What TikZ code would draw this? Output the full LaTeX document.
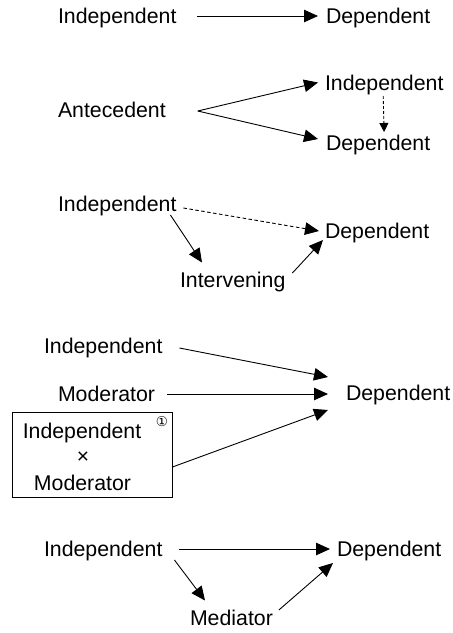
\documentclass[tikz,border=0pt]{standalone}
\usepackage{fontspec}
\setmainfont{Liberation Sans}
\newfontfamily\symfont{DejaVu Sans}
\usetikzlibrary{arrows.meta,calc}
\tikzset{
  lbl/.style={inner sep=0pt, outer sep=0pt, text height=15pt, text depth=0pt, font=\fontsize{21.3}{25}\selectfont},
  arr/.style={line width=0.9pt, -{Triangle[length=14pt,width=12.5pt]}},
  darr/.style={line width=0.9pt, dash pattern=on 3.5pt off 2.5pt, -{Triangle[length=14pt,width=12.5pt]}},
  sdarr/.style={line width=0.9pt, dash pattern=on 3pt off 2pt, -{Triangle[length=9pt,width=9pt]}},
  boxstyle/.style={draw, line width=0.9pt, inner sep=0pt, minimum width=160pt, minimum height=85pt}
}
\begin{document}
\begin{tikzpicture}[x=1pt,y=-1pt]
\useasboundingbox (0,0) rectangle (453,633);
% Row 1
\node[lbl,anchor=west] (i1) at (58,16) {Independent};
\node[lbl,anchor=west] (d1) at (326,16) {Dependent};
\draw[arr] ($(i1.east)+(21,0)$) -- ($(d1.west)+(-8,0)$);
% Row 2
\node[lbl,anchor=west] (a2) at (58,110) {Antecedent};
\node[lbl,anchor=west] (i2) at (325,82.5) {Independent};
\node[lbl,anchor=west] (d2) at (326,142.5) {Dependent};
\draw[arr] ($(a2.east)+(32,1)$) -- ($(i2.west)+(-7,0)$);
\draw[arr] ($(a2.east)+(32,1)$) -- ($(d2.west)+(-8,-3.5)$);
\draw[sdarr] ($(i2.south)+(-1,6)$) -- ($(d2.north)+(6,-3)$);
% Row 3
\node[lbl,anchor=west] (i3) at (58,204) {Independent};
\node[lbl,anchor=west] (d3) at (325,231) {Dependent};
\node[lbl,anchor=west] (iv) at (180,280) {Intervening};
\draw[darr] ($(i3.east)+(7,4)$) -- ($(d3.west)+(-6,0)$);
\draw[arr] ($(i3.east)+(-6,11)$) -- ($(iv.north west)+(22,-10)$);
\draw[arr] ($(iv.east)+(7,-7)$) -- ($(d3.west)+(-2,9)$);
% Row 4
\node[lbl,anchor=west] (i4) at (44,346) {Independent};
\node[lbl,anchor=west] (m4) at (58,394) {Moderator};
\node[lbl,anchor=west] (d4) at (346,393) {Dependent};
\node[boxstyle] (bx) at (92,454.5) {};
\node[lbl] (bxi) at (82,430.5) {Independent};
\node[inner sep=0pt, font=\fontsize{21}{25}\selectfont] (bxx) at (83,458) {×};
\node[lbl] (bxm) at (82.5,482.5) {Moderator};
\node[inner sep=0pt, font=\symfont\fontsize{13.5}{14}\selectfont] (c1) at (162,422) {①};
\draw[arr] ($(i4.east)+(17,2)$) -- ($(d4.west)+(-18,-16)$);
\draw[arr] ($(m4.east)+(12,0)$) -- ($(d4.west)+(-18,1)$);
\draw[arr] ($(bx.east)+(0,12.5)$) -- ($(d4.west)+(-18,17)$);
% Row 5
\node[lbl,anchor=west] (i5) at (44,549) {Independent};
\node[lbl,anchor=west] (d5) at (337,549) {Dependent};
\node[lbl,anchor=west] (me) at (190,618) {Mediator};
\draw[arr] ($(i5.east)+(17,0)$) -- ($(d5.west)+(-7,0)$);
\draw[arr] ($(i5.east)+(12,11)$) -- ($(me.north west)+(15,-10)$);
\draw[arr] ($(me.east)+(6,-8)$) -- ($(d5.west)+(-4,14)$);
\end{tikzpicture}
\end{document}
